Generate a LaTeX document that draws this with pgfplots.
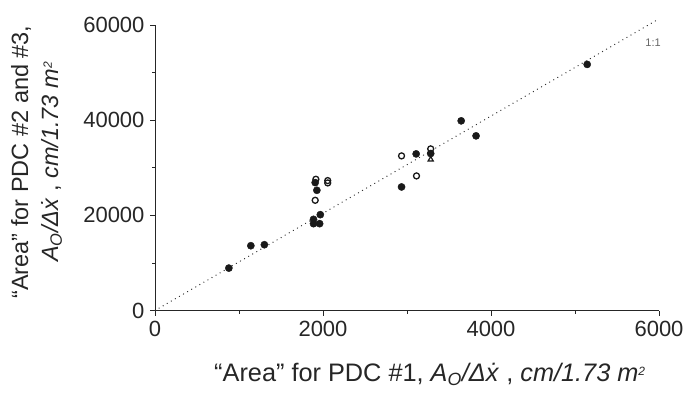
\documentclass[border=0pt]{standalone}
\usepackage{pgfplots}
\pgfplotsset{compat=1.18}
\usepackage{fontspec}
\setmainfont{Liberation Sans}
\begin{document}
\begin{tikzpicture}
\path[use as bounding box] (0,0) rectangle (684pt,393pt);
\begin{axis}[
  at={(155pt,82.5pt)}, anchor=south west,
  scale only axis, width=504pt, height=285.5pt,
  xmin=0, xmax=6000, ymin=0, ymax=60000,
  axis x line*=bottom, axis y line*=left,
  axis line style={line width=0.9pt, black!85},
  xtick={0,2000,4000,6000}, ytick={0,20000,40000,60000},
  minor xtick={1000,3000,5000}, minor ytick={10000,30000,50000},
  tick align=outside, major tick length=5pt, minor tick length=3pt,
  tick style={line width=0.8pt, black!85},
  scaled ticks=false,
  /pgf/number format/assume math mode=true,
  xticklabel={\pgfmathprintnumber[fixed,1000 sep={}]{\tick}},
  yticklabel={\pgfmathprintnumber[fixed,1000 sep={}]{\tick}},
  tick label style={font=\fontsize{22}{24}\selectfont, text=black!85},
  xticklabel style={yshift=-2pt},
  yticklabel style={xshift=-2pt},
  xlabel={``Area'' for PDC \#1, \textit{A}\textsubscript{\textit{O}}\textit{/Δẋ} , \textit{cm/1.73 m}\raisebox{0.5ex}{\fontsize{12}{12}\selectfont\textit{2}}},
  xlabel style={font=\fontsize{25.3}{27}\selectfont, text=black!85, at={(axis description cs:0.545,-0.25)}, anchor=base},
  ylabel={``Area'' for PDC \#2 and \#3,\\\textit{A}\textsubscript{\textit{O}}\textit{/Δẋ} , \textit{cm/1.73 m}\raisebox{0.5ex}{\fontsize{12}{12}\selectfont\textit{2}}},
  ylabel style={font=\fontsize{23.5}{30}\selectfont, text=black!85, align=center, at={(axis description cs:-0.235,0.52)}, anchor=center, rotate=0},
  clip=false,
]
\addplot[line width=1.3pt, black!80, line cap=round, dash pattern=on 0.1pt off 4.6pt] coordinates {(0,0) (5972,61010)};
\addplot[only marks, mark=*, mark size=3.6pt, black!90] coordinates {
(879,8912) (1141,13614) (1302,13825) (1887,19158) (1887,18246) (1960,18246)
(1968,20140) (1927,25263) (1907,26877) (2935,25965) (3109,32913) (3282,32983)
(3645,39860) (3822,36702) (5145,51720)
};
\addplot[only marks, mark=o, mark size=3.0pt, line width=1.3pt, black!90] coordinates {
(1915,27580) (2056,27300) (2056,26808) (1907,23159) (2935,32493) (3113,28282) (3282,33967)
};
\addplot[only marks, mark=triangle, mark size=3.0pt, line width=1.2pt, black!90] coordinates {
(3282,31721)
};
\node[font=\fontsize{11}{12}\selectfont, text=black!60] at (axis cs:5929,56300) {1:1};
\end{axis}
\end{tikzpicture}
\end{document}
